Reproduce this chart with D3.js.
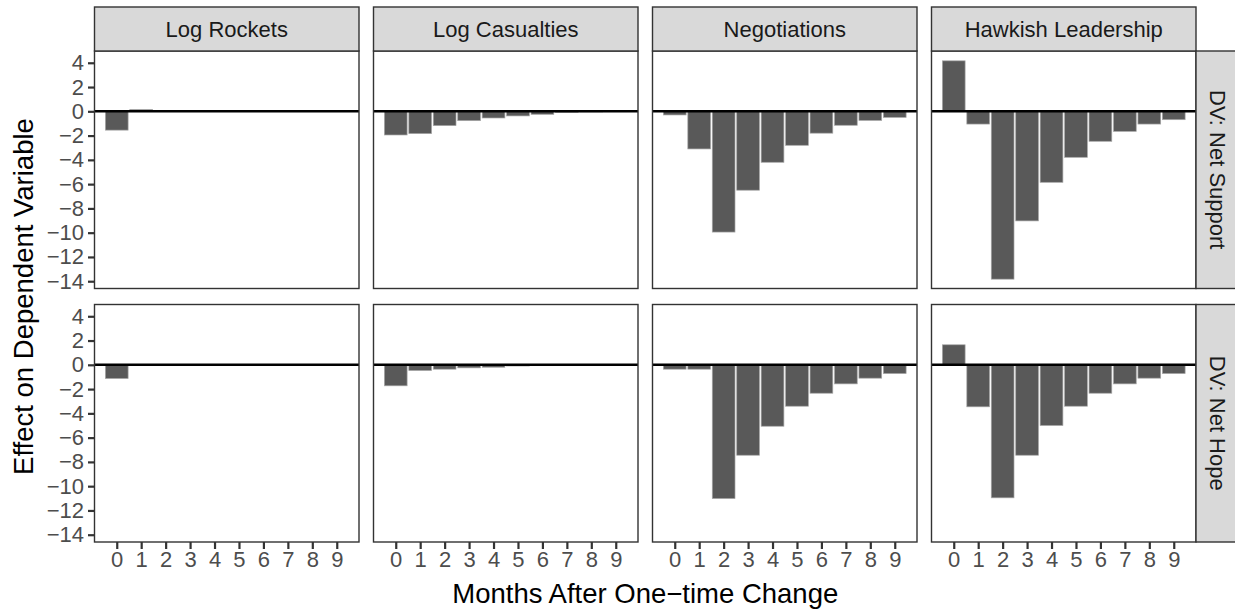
<!DOCTYPE html>
<html>
<head>
<meta charset="utf-8">
<script src="https://cdn.jsdelivr.net/npm/d3@7"></script>
<style>
  body { margin: 0; background: white; }
  svg { display: block; font-family: "Liberation Sans", Arial, sans-serif; }
</style>
</head>
<body>
<svg></svg>
<script>
const months = [0, 1, 2, 3, 4, 5, 6, 7, 8, 9];
const treatments = ["Log Rockets", "Log Casualties", "Negotiations", "Hawkish Leadership"];
const outcomes = ["DV: Net Support", "DV: Net Hope"];
const yTicks = [4, 2, 0, -2, -4, -6, -8, -10, -12, -14];

// effect by month, net support row
const supportRockets = [-1.55, 0.15, 0, 0, 0, 0, 0, 0, 0, 0];
const supportCasualties = [-1.95, -1.84, -1.18, -0.77, -0.55, -0.38, -0.25, -0.08, -0.05, -0.03];
const supportNegotiations = [-0.3, -3.1, -9.95, -6.5, -4.2, -2.8, -1.8, -1.15, -0.75, -0.5];
const supportHawkish = [4.16, -1.05, -13.83, -9.03, -5.85, -3.79, -2.47, -1.65, -1.05, -0.69];

// effect by month, net hope row
const hopeRockets = [-1.13, 0, 0, 0, 0, 0, 0, 0, 0, 0];
const hopeCasualties = [-1.73, -0.47, -0.36, -0.25, -0.2, -0.1, -0.07, -0.05, -0.03, -0.02];
const hopeNegotiations = [-0.36, -0.36, -11.02, -7.45, -5.06, -3.41, -2.34, -1.57, -1.1, -0.72];
const hopeHawkish = [1.65, -3.46, -10.96, -7.45, -5.0, -3.41, -2.34, -1.57, -1.1, -0.72];

const panelValues = [
  [supportRockets, supportCasualties, supportNegotiations, supportHawkish],
  [hopeRockets, hopeCasualties, hopeNegotiations, hopeHawkish]
];

const W = 1235, H = 611;
const plotLeft = 94.5, panelW = 264.5, gapX = 14.5;
const plotTop = 51, panelH = 237.5, gapY = 16;
const stripH = 44;

const svg = d3.select("svg")
  .attr("width", W)
  .attr("height", H);

const x = d3.scaleLinear()
  .domain([-0.91, 9.91])
  .range([0, panelW]);

const y = d3.scaleLinear()
  .domain([-14.6, 4.97])
  .range([panelH, 0]);

const barW = x(0.93) - x(0);

outcomes.forEach((outcome, r) => {
  const py = plotTop + r * (panelH + gapY);

  treatments.forEach((treat, c) => {
    const px = plotLeft + c * (panelW + gapX);
    const g = svg.append("g")
      .attr("transform", `translate(${px},${py})`);

    g.append("rect")
      .attr("width", panelW)
      .attr("height", panelH)
      .attr("fill", "white");

    const vals = panelValues[r][c];
    g.selectAll(".bar")
      .data(months.map((m, i) => ({ month: m, value: vals[i] })))
      .join("rect")
      .attr("class", "bar")
      .attr("x", d => x(d.month) - barW / 2)
      .attr("y", d => y(Math.max(0, d.value)))
      .attr("width", barW)
      .attr("height", d => Math.abs(y(d.value) - y(0)))
      .attr("fill", "#595959")
      .attr("stroke", "#a6a6a6")
      .attr("stroke-width", 0.7);

    g.append("line")
      .attr("x1", 0)
      .attr("x2", panelW)
      .attr("y1", y(0))
      .attr("y2", y(0))
      .attr("stroke", "black")
      .attr("stroke-width", 2.6);

    g.append("rect")
      .attr("width", panelW)
      .attr("height", panelH)
      .attr("fill", "none")
      .attr("stroke", "#333333")
      .attr("stroke-width", 1.4);

    // y axis on first column
    if (c === 0) {
      const ya = g.append("g")
        .call(d3.axisLeft(y).tickValues(yTicks).tickSize(6.5).tickPadding(4));
      ya.select(".domain").remove();
      ya.selectAll("line").attr("stroke", "#333333").attr("stroke-width", 2.2);
      ya.selectAll("text")
        .attr("fill", "#4d4d4d")
        .style("font-size", "22px")
        .style("font-family", "Liberation Sans, Arial, sans-serif");
    }

    // x axis on bottom row
    if (r === outcomes.length - 1) {
      const xa = g.append("g")
        .attr("transform", `translate(0,${panelH})`)
        .call(d3.axisBottom(x).tickValues(months).tickSize(7).tickPadding(2));
      xa.select(".domain").remove();
      xa.selectAll("line").attr("stroke", "#333333").attr("stroke-width", 2.2);
      xa.selectAll("text")
        .attr("fill", "#4d4d4d")
        .style("font-size", "22px")
        .style("font-family", "Liberation Sans, Arial, sans-serif");
    }

    // column strips on top row
    if (r === 0) {
      svg.append("rect")
        .attr("x", px)
        .attr("y", plotTop - stripH)
        .attr("width", panelW)
        .attr("height", stripH)
        .attr("fill", "#d9d9d9")
        .attr("stroke", "#333333")
        .attr("stroke-width", 1.4);

      svg.append("text")
        .attr("x", px + panelW / 2)
        .attr("y", plotTop - stripH / 2 + 8)
        .attr("text-anchor", "middle")
        .attr("fill", "#1a1a1a")
        .style("font-size", "22px")
        .text(treat);
    }
  });

  // row strip on the right
  const sx = plotLeft + 4 * panelW + 3 * gapX;
  svg.append("rect")
    .attr("x", sx)
    .attr("y", py)
    .attr("width", stripH)
    .attr("height", panelH)
    .attr("fill", "#d9d9d9")
    .attr("stroke", "#333333")
    .attr("stroke-width", 1.4);

  svg.append("text")
    .attr("transform", `translate(${sx + stripH / 2 - 8},${py + panelH / 2}) rotate(90)`)
    .attr("text-anchor", "middle")
    .attr("fill", "#1a1a1a")
    .style("font-size", "22px")
    .text(outcome);
});

const plotRight = plotLeft + 4 * panelW + 3 * gapX;
const plotBottom = plotTop + 2 * panelH + gapY;

svg.append("text")
  .attr("x", (plotLeft + plotRight) / 2)
  .attr("y", 603)
  .attr("text-anchor", "middle")
  .attr("fill", "black")
  .style("font-size", "27.5px")
  .text("Months After One\u2212time Change");

svg.append("text")
  .attr("transform", `translate(33,${(plotTop + plotBottom) / 2}) rotate(-90)`)
  .attr("text-anchor", "middle")
  .attr("fill", "black")
  .style("font-size", "27.5px")
  .text("Effect on Dependent Variable");
</script>
</body>
</html>
